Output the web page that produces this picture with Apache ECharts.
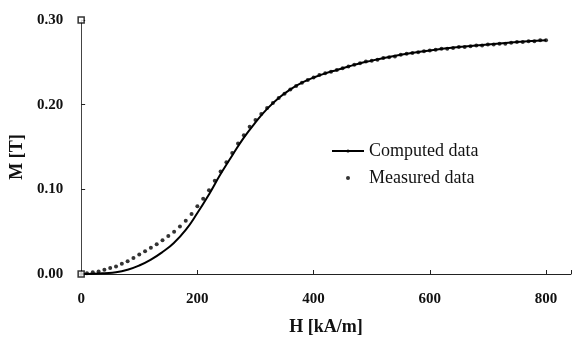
<!DOCTYPE html>
<html>
<head>
<meta charset="utf-8">
<script src="https://cdn.jsdelivr.net/npm/echarts@6/dist/echarts.min.js"></script>
<style>html,body{margin:0;padding:0;background:#fff;}#c{width:574px;height:341px;}</style>
</head>
<body>
<div id="c"></div>
<script>
// Measured data (H in kA/m, M in T)
const measuredH = [0,10,20,30,40,50,60,70,80,90,100,110,120,130,140,150,160,170,180,190,200,210,220,230,240,250,260,270,280,290,300,310,320,330,340,350,360,370,380,390,400,410,420,430,440,450,460,470,480,490,500,510,520,530,540,550,560,570,580,590,600,610,620,630,640,650,660,670,680,690,700,710,720,730,740,750,760,770,780,790,800];
const measuredM = [0.000,0.001,0.002,0.003,0.005,0.007,0.009,0.012,0.015,0.019,0.023,0.027,0.031,0.035,0.040,0.045,0.050,0.056,0.063,0.071,0.080,0.089,0.099,0.110,0.121,0.132,0.143,0.154,0.164,0.174,0.182,0.189,0.196,0.202,0.208,0.213,0.218,0.222,0.226,0.229,0.232,0.235,0.237,0.239,0.241,0.243,0.245,0.247,0.249,0.251,0.252,0.253,0.255,0.256,0.257,0.259,0.260,0.261,0.262,0.263,0.264,0.265,0.266,0.266,0.267,0.268,0.268,0.269,0.270,0.270,0.271,0.271,0.272,0.272,0.273,0.274,0.274,0.275,0.275,0.276,0.276];
// Computed data
const computedH = [0,20,40,60,80,100,120,140,160,180,200,220,240,260,280,300,320,340,360,380,400,420,440,460,480,500,550,600,650,700,750,800];
const computedM = [0,0.0003,0.001,0.002,0.005,0.010,0.017,0.026,0.037,0.052,0.072,0.094,0.118,0.140,0.161,0.179,0.195,0.208,0.218,0.226,0.232,0.237,0.241,0.245,0.249,0.252,0.259,0.264,0.268,0.271,0.274,0.276];
// Corner markers seen in the figure
const markerH = [0,0];
const markerM = [0,0.30];
const xTicks = [0,200,400,600,800];
const seriesNames = ['Computed data','Measured data'];

const zip = (a,b) => a.map((v,i)=>[v,b[i]]);
const chart = echarts.init(document.getElementById('c'), null, {renderer:'canvas'});
const serif = '"Liberation Serif","DejaVu Serif",serif';
chart.setOption({
  animation:false,
  backgroundColor:'#fff',
  grid:{left:79,right:2,top:20,bottom:66},
  legend:{
    orient:'vertical', left:326, top:137, itemWidth:32, itemHeight:4, itemGap:9,
    textStyle:{fontFamily:serif,fontSize:18,color:'#111'},
    data:[{name:seriesNames[0]},{name:seriesNames[1],icon:'circle'}]
  },
  xAxis:{
    type:'value', min:0, max:843, interval:200,
    name:'H [kA/m]', nameLocation:'middle', nameGap:44,
    nameTextStyle:{fontFamily:serif,fontWeight:'bold',fontSize:18,color:'#111'},
    axisLine:{lineStyle:{color:'#222',width:1}},
    axisTick:{inside:true,length:4,lineStyle:{color:'#222'}},
    axisLabel:{margin:18,fontFamily:serif,fontWeight:'bold',fontSize:15,color:'#111',
      formatter:v=>xTicks.indexOf(v)>=0?String(v):''},
    splitLine:{show:false}
  },
  yAxis:{
    type:'value', min:0, max:0.30, interval:0.10,
    name:'M [T]', nameLocation:'middle', nameGap:53,
    nameTextStyle:{fontFamily:serif,fontWeight:'bold',fontSize:18,color:'#111',padding:[0,20,0,0]},
    axisLine:{show:true,lineStyle:{color:'#444',width:1}},
    axisTick:{show:true,inside:true,length:4,lineStyle:{color:'#222'}},
    axisLabel:{margin:18,fontFamily:serif,fontWeight:'bold',fontSize:15,color:'#111',
      formatter:v=>v.toFixed(2)},
    splitLine:{show:false}
  },
  series:[
    {name:seriesNames[0],type:'line',data:zip(computedH,computedM),smooth:0.5,symbol:'none',
      lineStyle:{color:'#000',width:2},itemStyle:{color:'#000'},z:2},
    {name:seriesNames[1],type:'scatter',data:zip(measuredH,measuredM),symbol:'circle',symbolSize:4,
      itemStyle:{color:'#000'},z:3},
    {name:'markers',type:'scatter',data:zip(markerH,markerM),symbol:'rect',symbolSize:6,
      itemStyle:{color:'#fff',borderColor:'#000',borderWidth:1.5},z:4}
  ]
});
</script>
</body>
</html>
